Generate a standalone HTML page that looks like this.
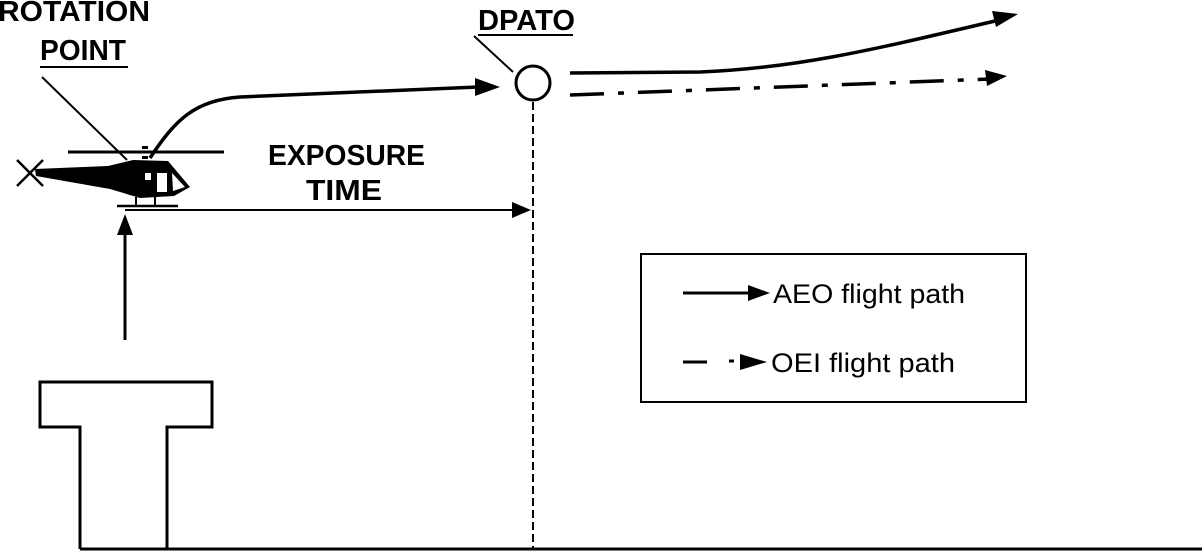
<!DOCTYPE html>
<html><head><style>
body{margin:0;background:#fff;}
svg{display:block;}
.b{font-family:"Liberation Sans",Arial,sans-serif;font-weight:bold;font-size:29px;fill:#000;}
.n{font-family:"Liberation Sans",Arial,sans-serif;font-size:27px;fill:#000;}
</style></head><body>
<svg width="1202" height="557" viewBox="0 0 1202 557" xmlns="http://www.w3.org/2000/svg">
<rect width="1202" height="557" fill="#fff"/>
<text class="b" x="-2" y="21" textLength="152" lengthAdjust="spacingAndGlyphs">ROTATION</text>
<text class="b" x="40" y="60" textLength="86" lengthAdjust="spacingAndGlyphs">POINT</text>
<line x1="40" y1="67" x2="128" y2="67" stroke="#000" stroke-width="2"/>
<line x1="42" y1="77" x2="127" y2="160" stroke="#000" stroke-width="2"/>
<text class="b" x="478" y="30" textLength="97" lengthAdjust="spacingAndGlyphs">DPATO</text>
<line x1="478" y1="35" x2="573" y2="35" stroke="#000" stroke-width="2"/>
<line x1="474" y1="36" x2="513" y2="72" stroke="#000" stroke-width="2"/>
<text class="b" x="268" y="165" textLength="157" lengthAdjust="spacingAndGlyphs">EXPOSURE</text>
<text class="b" x="306" y="200" textLength="76" lengthAdjust="spacingAndGlyphs">TIME</text>
<path d="M150,158 C175,120 195,100 240,97 L478,87" fill="none" stroke="#000" stroke-width="3.5"/>
<path d="M475,78 L500,87 L475,96 Z" fill="#000"/>
<ellipse cx="533" cy="83" rx="17" ry="17" fill="none" stroke="#000" stroke-width="3"/>
<path d="M570,73 L700,72 C800,68 880,48 995,21" fill="none" stroke="#000" stroke-width="3.5"/>
<path d="M992,11 L1018,14 L996,27 Z" fill="#000"/>
<path d="M570,95 L990,79" fill="none" stroke="#000" stroke-width="3.5" stroke-dasharray="34,14,6,14"/>
<path d="M985,70 L1007,76 L987,86 Z" fill="#000"/>
<line x1="533" y1="102" x2="533" y2="550" stroke="#000" stroke-width="2" stroke-dasharray="8,4"/>
<line x1="125" y1="210" x2="515" y2="210" stroke="#000" stroke-width="2"/>
<path d="M512,202 L531,210 L512,218 Z" fill="#000"/>
<line x1="125" y1="340" x2="125" y2="225" stroke="#000" stroke-width="3"/>
<path d="M117,235 L125,214 L133,235 Z" fill="#000"/>
<line x1="68" y1="152" x2="224" y2="152" stroke="#000" stroke-width="3"/>
<rect x="142" y="146" width="6" height="3" fill="#000"/>
<rect x="142" y="156" width="6" height="3" fill="#000"/>
<line x1="17" y1="160" x2="43" y2="186" stroke="#000" stroke-width="2.5"/>
<line x1="17" y1="186" x2="43" y2="160" stroke="#000" stroke-width="2.5"/>
<path d="M35,169 L108,166 L133,160 L168,161 L190,187 L174,196 L140,198 L110,189 L36,176 Z" fill="#000"/>
<path d="M172,173 L185,187 L173,191 Z" fill="#fff"/>
<rect x="157" y="173" width="10" height="19" fill="#fff"/>
<rect x="145" y="173" width="6" height="7" fill="#fff"/>
<line x1="136" y1="197" x2="136" y2="207" stroke="#000" stroke-width="2"/>
<line x1="155" y1="197" x2="155" y2="207" stroke="#000" stroke-width="2"/>
<line x1="117" y1="206" x2="178" y2="206" stroke="#000" stroke-width="2.5"/>
<path d="M80,549 L80,427 L40,427 L40,382 L212,382 L212,427 L167,427 L167,549" fill="none" stroke="#000" stroke-width="3"/>
<line x1="80" y1="549" x2="1202" y2="549" stroke="#000" stroke-width="3"/>
<rect x="641" y="254" width="385" height="148" fill="none" stroke="#000" stroke-width="2"/>
<line x1="683" y1="293" x2="752" y2="293" stroke="#000" stroke-width="3"/>
<path d="M748,285 L770,293 L748,301 Z" fill="#000"/>
<text class="n" x="773" y="303" textLength="192" lengthAdjust="spacingAndGlyphs">AEO flight path</text>
<line x1="683" y1="362" x2="707" y2="362" stroke="#000" stroke-width="3"/>
<line x1="729" y1="361" x2="734" y2="361" stroke="#000" stroke-width="3"/>
<path d="M740,354 L767,362 L740,370 Z" fill="#000"/>
<text class="n" x="771" y="372" textLength="184" lengthAdjust="spacingAndGlyphs">OEI flight path</text>
</svg>
</body></html>
